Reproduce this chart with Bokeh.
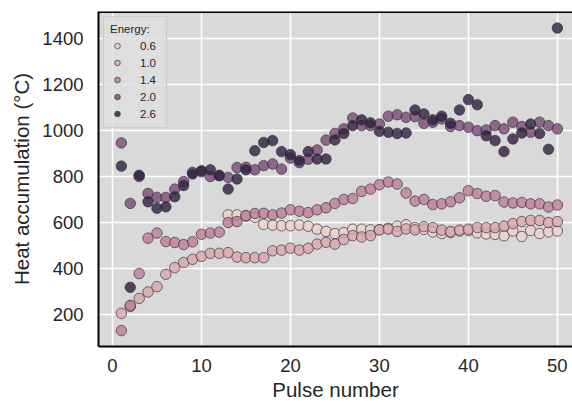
from bokeh.plotting import figure
from bokeh.models import Range1d, Span, FixedTicker
from bokeh.embed import file_html
from bokeh.resources import INLINE

# ---- data ----
pulse = list(range(1, 51))
pulse_06 = list(range(13, 51))

energy_labels = ["0.6", "1.0", "1.4", "2.0", "2.6"]
energy_colors = ["#edd1cb", "#daa4ac", "#bd7a98", "#7a4877", "#2d1e3e"]

heat_06 = [633, 633, 628, 622, 592, 589, 586, 586, 589, 584,
           571, 561, 552, 556, 571, 571, 568, 568, 575, 584,
           590, 578, 570, 559, 552, 556, 563, 565, 555, 550,
           548, 542, 563, 539, 565, 552, 559, 563]

heat_10 = [205, 235, 270, 298, 321, 375, 404, 426, 440, 453,
           466, 466, 469, 450, 447, 447, 447, 477, 480, 488,
           480, 488, 506, 514, 506, 526, 543, 537, 543, 568,
           571, 561, 572, 568, 582, 578, 567, 561, 567, 571,
           578, 578, 578, 584, 595, 604, 609, 609, 600, 604]

heat_14 = [130, 240, 378, 532, 554, 517, 513, 504, 516, 549,
           554, 558, 600, 604, 630, 639, 640, 633, 641, 655,
           649, 643, 655, 664, 683, 700, 704, 735, 745, 764,
           776, 767, 728, 693, 700, 678, 681, 690, 707, 738,
           726, 714, 717, 689, 685, 687, 681, 681, 667, 676]

heat_20 = [946, 683, 800, 726, 709, 709, 745, 778, 818, 820,
           800, 805, 796, 839, 840, 829, 847, 854, 832, 880,
           860, 875, 915, 958, 987, 1007, 1054, 1021, 1021, 1028,
           1062, 1068, 1057, 1060, 1031, 1036, 1050, 1017, 1021, 1014,
           999, 1002, 1021, 1007, 1036, 1017, 992, 1036, 1021, 1007]

heat_26 = [845, 318, 805, 690, 662, 668, 712, 761, 811, 825,
           829, 803, 745, 789, 829, 912, 948, 956, 908, 895,
           869, 908, 876, 876, 959, 987, 1021, 1046, 1033, 996,
           992, 987, 989, 1089, 1072, 1046, 1062, 1031, 1089, 1134,
           1112, 977, 956, 908, 963, 989, 1028, 987, 918, 1445]

x_ticks = [0, 10, 20, 30, 40, 50]
y_ticks = [200, 400, 600, 800, 1000, 1200, 1400]

series_x = [pulse_06, pulse, pulse, pulse, pulse]
series_y = [heat_06, heat_10, heat_14, heat_20, heat_26]

FONT = "Liberation Sans"
TEXT = "#262626"
Y_END = 1517

p = figure(width=572, height=403, output_backend="svg", toolbar_location=None,
           x_range=Range1d(-1.57, 51.7), y_range=Range1d(61, Y_END),
           min_border_left=98, min_border_right=0, min_border_top=11,
           min_border_bottom=57)
p.background_fill_color = "#d9d9d9"
p.border_fill_color = "white"
p.outline_line_color = None

p.xgrid.grid_line_color = "white"
p.ygrid.grid_line_color = "white"
p.xgrid.grid_line_width = 1.6
p.ygrid.grid_line_width = 1.6

p.xaxis.ticker = FixedTicker(ticks=x_ticks)
p.yaxis.ticker = FixedTicker(ticks=y_ticks)
for ax in (p.xaxis[0], p.yaxis[0]):
    ax.axis_line_color = "black"
    ax.axis_line_width = 2
    ax.major_tick_line_color = None
    ax.minor_tick_line_color = None
    ax.major_tick_out = 0
    ax.major_tick_in = 0
    ax.minor_tick_out = 0
    ax.minor_tick_in = 0
    ax.major_label_text_font = FONT
    ax.major_label_text_font_size = "18.5px"
    ax.major_label_text_color = TEXT
    ax.axis_label_text_font = FONT
    ax.axis_label_text_font_size = "20.5px"
    ax.axis_label_text_font_style = "normal"
    ax.axis_label_text_color = TEXT
p.xaxis.major_label_standoff = 12
p.xaxis.axis_label_standoff = 3
p.yaxis.major_label_standoff = 15
p.yaxis.axis_label_standoff = 6
p.xaxis.axis_label = "Pulse number"
p.yaxis.axis_label = "Heat accumulation (°C)"

p.add_layout(Span(location=Y_END, dimension="width", line_color="black", line_width=3))

for xs, ys, lab, col in zip(series_x, series_y, energy_labels, energy_colors):
    p.scatter(xs, ys, size=10.5, fill_color=col, fill_alpha=0.8,
              line_color="#333333", line_alpha=0.75, line_width=0.9,
              legend_label=lab)

lg = p.legend[0]
lg.location = "top_left"
lg.margin = 5
lg.title = "Energy:"
lg.title_text_font = FONT
lg.title_text_font_size = "11.5px"
lg.title_text_font_style = "normal"
lg.title_text_color = TEXT
lg.title_standoff = 3
lg.label_text_font = FONT
lg.label_text_font_size = "11.5px"
lg.label_text_color = TEXT
lg.background_fill_color = "#dedede"
lg.background_fill_alpha = 0.8
lg.border_line_color = "#c8c8c8"
lg.border_line_alpha = 0.8
lg.padding = 6
lg.spacing = 2
lg.glyph_height = 15
lg.glyph_width = 14
lg.label_height = 15
lg.label_standoff = 16

open("out.html", "w").write(file_html(p, INLINE))
